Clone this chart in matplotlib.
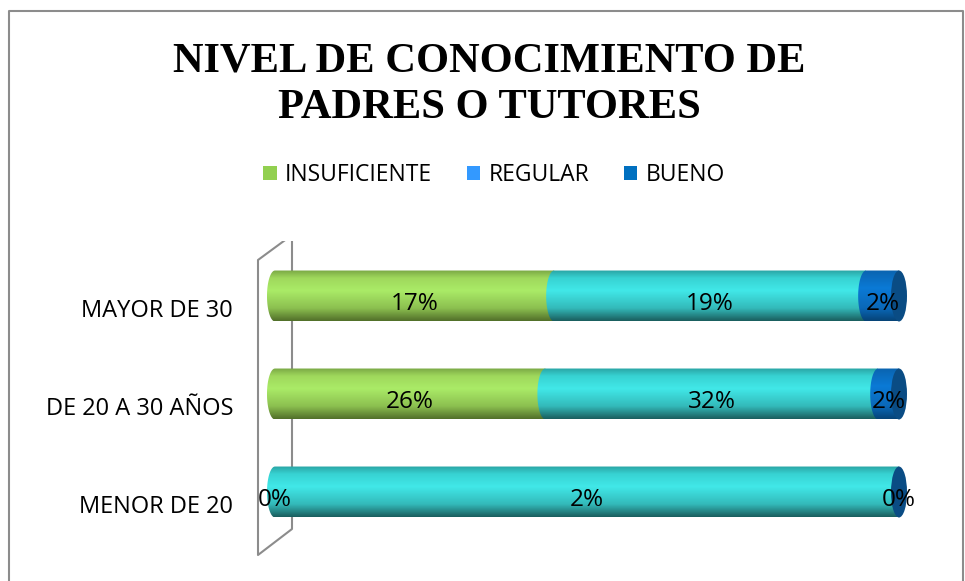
import numpy as np
import matplotlib
matplotlib.use("Agg")
import matplotlib.pyplot as plt
from matplotlib.path import Path
from matplotlib.patches import PathPatch, Ellipse, Patch
from matplotlib.colors import to_rgb

categories = ["MENOR DE 20", "DE 20 A 30 AÑOS", "MAYOR DE 30"]
series = ["INSUFICIENTE", "REGULAR", "BUENO"]
insuficiente = [0, 26, 17]
regular = [2, 32, 19]
bueno = [0, 2, 2]
legend_colors = ["#92d050", "#3399ff", "#0070c0"]

# cylinder shading stops (position from top, colour)
shades = [
    [(0.0, "#7aa845"), (0.15, "#9fd85c"), (0.4, "#aaeb67"), (0.75, "#8cc050"), (1.0, "#52702a")],
    [(0.0, "#2aa5a5"), (0.15, "#37d2d2"), (0.4, "#41e8e8"), (0.75, "#33baba"), (1.0, "#1a5f5f")],
    [(0.0, "#0a64b0"), (0.35, "#0b7ad6"), (0.75, "#0a68b8"), (1.0, "#064478")],
]
cap_color = "#0a4c84"


def gradient(stops, n=64):
    t = np.linspace(0, 1, n)
    pos = [s[0] for s in stops]
    cols = np.array([to_rgb(s[1]) for s in stops])
    img = np.stack([np.interp(t, pos, cols[:, k]) for k in range(3)], axis=1)
    return img[:, None, :]


def seg_path(l, r, yc, h, e):
    top, bot = yc + h / 2, yc - h / 2
    th = np.linspace(-np.pi / 2, np.pi / 2, 40)
    arc_x = l - e * np.cos(th)
    arc_y = yc + (h / 2) * np.sin(th)
    xs = np.concatenate([[r, r], arc_x])
    ys = np.concatenate([[top, bot], arc_y])
    verts = np.column_stack([xs, ys])
    verts = np.vstack([verts, verts[:1]])
    return Path(verts, closed=True)


W, H = 965, 581
fig = plt.figure(figsize=(W / 100, H / 100), dpi=100)

# outer chart border
fig.add_artist(plt.Line2D([9 / W, 9 / W, 963 / W, 963 / W], [0, 1 - 11 / H, 1 - 11 / H, 0],
                          transform=fig.transFigure, color="#8c8c8c", lw=1.5))

fig.text(489 / W, 1 - 61 / H, "NIVEL DE CONOCIMIENTO DE", ha="center", va="center",
         family="Liberation Serif", weight="bold", fontsize=30.6)
fig.text(489 / W, 1 - 108 / H, "PADRES O TUTORES", ha="center", va="center",
         family="Liberation Serif", weight="bold", fontsize=30.6)

# axes in pixel layout: x=0 -> 275px, x=1 -> 899px; y unit 98px, y=0 at 89px from bottom
ax_l, ax_r, ax_b, ax_t = 230, 940, 20, 340
ax = fig.add_axes([ax_l / W, ax_b / H, (ax_r - ax_l) / W, (ax_t - ax_b) / H])
ax.set_xlim((ax_l - 275) / 624, (ax_r - 275) / 624)
ax.set_ylim((ax_b - 89) / 98, (ax_t - 89) / 98)
ax.axis("off")

# back wall
wall = "#8c8c8c"
x0, x1 = (258 - 275) / 624, (292 - 275) / 624
y_lt, y_lb = (581 - 260 - 89) / 98, (581 - 555 - 89) / 98
y_rt, y_rb = (581 - 235 - 89) / 98, (581 - 529 - 89) / 98
ax.plot([x1, x0, x0, x1, x1], [y_rt, y_lt, y_lb, y_rb, y_rt], color=wall, lw=1.5, zorder=1)

data = np.array([insuficiente, regular, bueno], dtype=float)
totals = data.sum(axis=0)
h = 0.52
e = 8 / 624

for i, cat in enumerate(categories):
    fr = data[:, i] / totals[i]
    left = 0.0
    for k in range(len(series)):
        right = left + fr[k]
        if fr[k] > 0:
            im = ax.imshow(gradient(shades[k]), extent=(left - e, right, i - h / 2, i + h / 2),
                           aspect="auto", zorder=2 + k, interpolation="bilinear")
            clip = PathPatch(seg_path(left, right, i, h, e), transform=ax.transData,
                             fc="none", ec="none")
            im.set_clip_path(clip)
        left = right
    ax.add_patch(Ellipse((1, i), 2 * e, h, facecolor=cap_color, edgecolor="none", zorder=6))
    left = 0.0
    for k in range(len(series)):
        ax.text(left + fr[k] / 2, i - 0.08, f"{data[k, i]:.0f}%", ha="center", va="center",
                fontsize=17.5, family="Open Sans", zorder=8)
        left += fr[k]
    ax.text((233 - 275) / 624, i - 0.15, cat, ha="right", va="center",
            fontsize=17, family="Open Sans")

handles = [Patch(facecolor=c, edgecolor="none") for c in legend_colors]
fig.legend(handles, series, loc="center", bbox_to_anchor=(494 / W, 1 - 175 / H), ncol=3,
           frameon=False, prop={"family": "Open Sans", "size": 16.5},
           handlelength=0.6, handleheight=0.6, handletextpad=0.35, columnspacing=1.5)

fig.savefig("out.png", dpi=100)
